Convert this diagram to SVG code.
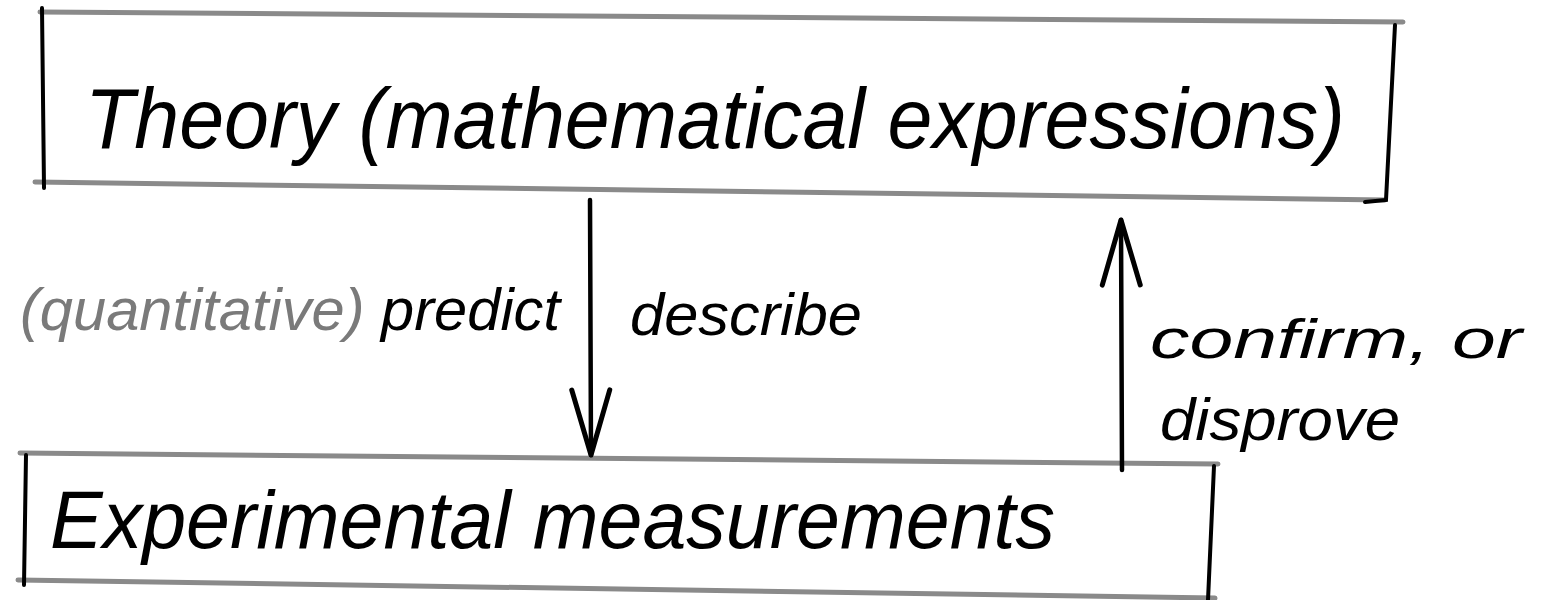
<svg xmlns="http://www.w3.org/2000/svg" width="1556" height="600" viewBox="0 0 1556 600">
  <style>
    .hline { stroke: #8a8a8a; stroke-width: 5; fill: none; stroke-linecap: round; }
    .vline { stroke: #000; stroke-width: 4; fill: none; stroke-linecap: round; }
    .conn { stroke: #000; stroke-width: 4.5; fill: none; stroke-linecap: round; }
    .hand { font-family: "Liberation Sans", "DejaVu Sans", sans-serif; font-style: italic; fill: #000; }
    .grey { fill: #7a7a7a; }
  </style>
  <defs>
    <marker id="vhead" markerUnits="userSpaceOnUse" markerWidth="80" markerHeight="60" viewBox="-70 -30 80 60" refX="0" refY="0" orient="auto" overflow="visible">
      <path d="M -65 -19 L 0 0 L -65 19" stroke="#000" stroke-width="5" fill="none" stroke-linecap="round" stroke-linejoin="round"/>
    </marker>
  </defs>
  <rect width="1556" height="600" fill="#fff"/>

  <g id="theory">
    <path class="hline" d="M 40 12 L 1403 22"/>
    <path class="hline" d="M 35 182 L 1385 200"/>
    <path class="vline" d="M 42 8 L 44 188"/>
    <path class="vline" d="M 1395 25 L 1386 200 L 1365 202"/>
    <text class="hand" x="85" y="148" font-size="86" textLength="1260" lengthAdjust="spacingAndGlyphs">Theory (mathematical expressions)</text>
  </g>

  <g id="experimental">
    <path class="hline" d="M 20 453 L 1218 464"/>
    <path class="hline" d="M 18 580 L 1215 598"/>
    <path class="vline" d="M 26 455 L 24 585"/>
    <path class="vline" d="M 1214 466 L 1208 600"/>
    <text class="hand" x="50" y="548" font-size="82" textLength="1005" lengthAdjust="spacingAndGlyphs">Experimental measurements</text>
  </g>

  <g id="connectors">
    <path class="conn" d="M 590 200 L 591 455" marker-end="url(#vhead)"/>
    <path class="conn" d="M 1122 470 L 1121 220" marker-end="url(#vhead)"/>
  </g>

  <g id="labels">
    <text class="hand" x="20" y="330" font-size="60" textLength="540" lengthAdjust="spacingAndGlyphs"><tspan class="grey">(quantitative)</tspan> predict</text>
    <text class="hand" x="630" y="335" font-size="60" textLength="232" lengthAdjust="spacingAndGlyphs">describe</text>
    <text class="hand" x="1150" y="358" font-size="56" textLength="372" lengthAdjust="spacingAndGlyphs">confirm, or</text>
    <text class="hand" x="1160" y="440" font-size="60" textLength="240" lengthAdjust="spacingAndGlyphs">disprove</text>
  </g>
</svg>
